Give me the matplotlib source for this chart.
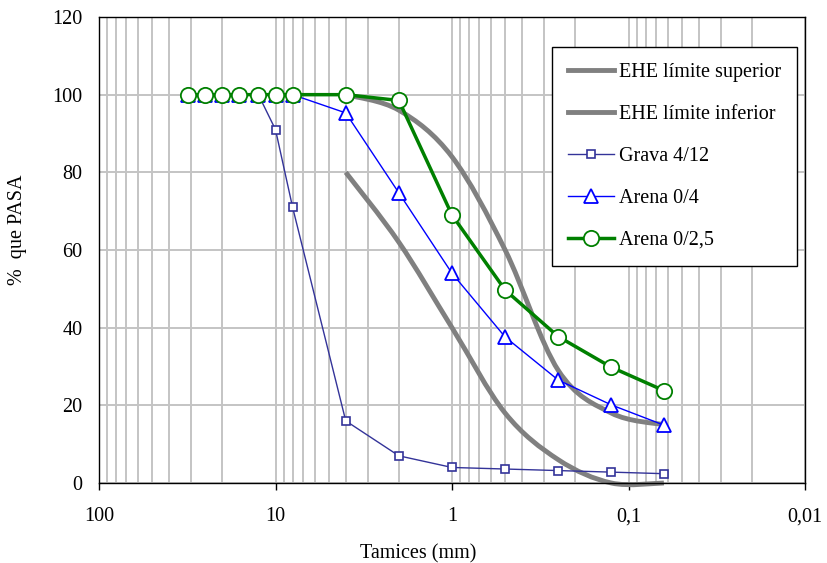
import numpy as np
import matplotlib
matplotlib.use("Agg")
import matplotlib.pyplot as plt
from matplotlib.path import Path
from matplotlib.patches import PathPatch
from matplotlib.lines import Line2D
from matplotlib.ticker import FixedLocator, FuncFormatter, NullFormatter

plt.rcParams["font.family"] = ["Liberation Serif", "DejaVu Serif"]
plt.rcParams["font.size"] = 14.5

# Tamices (mm)
SIEVES = [31.5, 25, 20, 16, 12.5, 10, 8, 4, 2, 1, 0.5, 0.25, 0.125, 0.063]
GRAVA_4_12 = [100, 100, 100, 100, 100, 91, 71, 16, 7, 4, 3.6, 3.2, 2.8, 2.4]
ARENA_0_4 = [100, 100, 100, 100, 100, 100, 100, 95.3, 74.7, 54, 37.6, 26.5, 20.1, 14.9]
ARENA_0_25 = [100, 100, 100, 100, 100, 100, 100, 100, 98.5, 69, 49.7, 37.7, 29.8, 23.8]

# Huso EHE para arido fino
EHE_SIEVES = [4, 2, 1, 0.5, 0.25, 0.125, 0.063]
EHE_SUP = [100, 96, 84, 60, 29, 18, 15]
EHE_INF = [80, 62, 40, 18, 6, 0, 0]

X_TICKS = [100, 10, 1, 0.1, 0.01]
Y_TICKS = [0, 20, 40, 60, 80, 100, 120]

GRID = "#c4c4c4"
GRAY = "#808080"


def smooth_path(xs, ys):
    """Bezier path through the points (Excel-style smoothing in log-x space)."""
    pts = np.column_stack([np.log10(xs), ys]).astype(float)
    n = len(pts)
    verts = [pts[0]]
    codes = [Path.MOVETO]
    for i in range(n - 1):
        p0 = pts[i - 1] if i > 0 else pts[i]
        p1 = pts[i]
        p2 = pts[i + 1]
        p3 = pts[i + 2] if i + 2 < n else pts[i + 1]
        c1 = p1 + (p2 - p0) / 6.0
        c2 = p2 - (p3 - p1) / 6.0
        verts += [c1, c2, p2]
        codes += [Path.CURVE4] * 3
    verts = np.array(verts)
    verts[:, 0] = 10 ** verts[:, 0]
    return Path(verts, codes)


fig = plt.figure(figsize=(8.27, 5.63), dpi=100)
ax = fig.add_axes([99 / 827, 1 - 483 / 563, 706 / 827, 466 / 563])

ax.set_xscale("log")
ax.set_xlim(100, 0.01)
ax.set_ylim(0, 120)

# grid: every sieve decade plus the 2..9 subdivisions
ax.xaxis.set_major_locator(FixedLocator(X_TICKS))
minor = [m * 10.0 ** e for e in range(-2, 2) for m in range(2, 10)]
ax.xaxis.set_minor_locator(FixedLocator(minor))
ax.xaxis.set_minor_formatter(NullFormatter())
ax.xaxis.set_major_formatter(FuncFormatter(lambda v, p: f"{v:g}".replace(".", ",")))
ax.set_yticks(Y_TICKS)
ax.grid(True, which="both", axis="x", color=GRID, lw=1.4)
ax.grid(True, which="major", axis="y", color=GRID, lw=1.4)
ax.set_axisbelow(True)

ax.tick_params(axis="x", which="major", direction="out", length=5, width=1, pad=12.5)
ax.tick_params(axis="x", which="minor", length=0)
ax.tick_params(axis="y", length=0, pad=12)
for sp in ax.spines.values():
    sp.set_color("black")
    sp.set_linewidth(1.0)

# EHE limits, smoothed
for ys in (EHE_SUP, EHE_INF):
    patch = PathPatch(smooth_path(EHE_SIEVES, ys), facecolor="none", edgecolor=GRAY,
                      lw=3.5, capstyle="butt", zorder=2, clip_on=False)
    ax.add_patch(patch)

ax.plot(SIEVES, GRAVA_4_12, color="#333399", lw=1.0, marker="s", ms=6,
        mfc="white", mec="#333399", mew=1.2, zorder=3)
ax.plot(SIEVES, ARENA_0_4, color="#0000ff", lw=1.0, marker="^", ms=10,
        mfc="white", mec="#0000ff", mew=1.3, zorder=4)
ax.plot(SIEVES, ARENA_0_25, color="#008000", lw=2.5, marker="o", ms=11,
        mfc="white", mec="#008000", mew=1.3, zorder=5)

handles = [
    Line2D([], [], color=GRAY, lw=3.5),
    Line2D([], [], color=GRAY, lw=3.5),
    Line2D([], [], color="#333399", lw=1.0, marker="s", ms=6, mfc="white", mew=1.2),
    Line2D([], [], color="#0000ff", lw=1.0, marker="^", ms=10, mfc="white", mew=1.3),
    Line2D([], [], color="#008000", lw=2.5, marker="o", ms=11, mfc="white", mew=1.3),
]
labels = ["EHE límite superior", "EHE límite inferior", "Grava 4/12",
          "Arena 0/4", "Arena 0/2,5"]
leg = ax.legend(handles, labels, loc="upper right",
                bbox_to_anchor=((797 - 99) / 706, (483 - 47) / 466),
                borderaxespad=0, fancybox=False, framealpha=1, edgecolor="black",
                handlelength=2.25, handletextpad=0.25, labelspacing=1.13,
                borderpad=0.8)
leg.get_frame().set_linewidth(1.0)

ax.set_xlabel("Tamices (mm)", va="center")
ax.xaxis.set_label_coords((418 - 99) / 706, -(554 - 483) / 466)
ax.set_ylabel("%  que PASA", va="center")
ax.yaxis.set_label_coords((18 - 99) / 706, (483 - 230) / 466)

fig.savefig("out.png", dpi=100)
